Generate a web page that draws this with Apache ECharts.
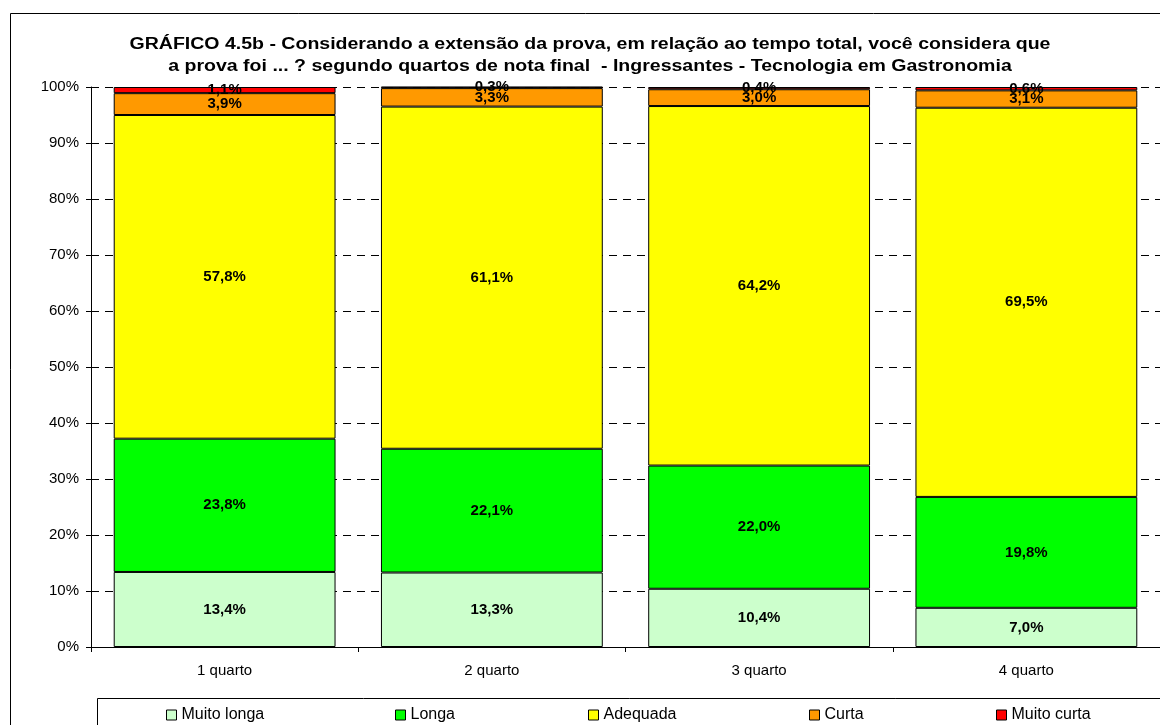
<!DOCTYPE html>
<html>
<head>
<meta charset="utf-8">
<script src="https://cdn.jsdelivr.net/npm/echarts@6/dist/echarts.min.js"></script>
<style>
  html, body { margin: 0; padding: 0; background: #fff; }
  #chart { width: 1160px; height: 725px; }
</style>
</head>
<body>
<div id="chart"></div>
<script>
  // dados
  var quartos = ['1 quarto', '2 quarto', '3 quarto', '4 quarto'];
  var muitoLonga = [13.4, 13.3, 10.4, 7.0];
  var longa = [23.8, 22.1, 22.0, 19.8];
  var adequada = [57.8, 61.1, 64.2, 69.5];
  var curta = [3.9, 3.3, 3.0, 3.1];
  var muitoCurta = [1.1, 0.3, 0.4, 0.6];

  var nomes = ['Muito longa', 'Longa', 'Adequada', 'Curta', 'Muito curta'];
  var cores = ['#CCFFCC', '#00FF00', '#FFFF00', '#FF9900', '#FF0000'];
  var valores = [muitoLonga, longa, adequada, curta, muitoCurta];
  var legendaX = [161, 390, 583, 804, 991];

  var titulo = 'GRÁFICO 4.5b - Considerando a extensão da prova, em relação ao tempo total, você considera que\n' +
    'a prova foi ... ? segundo quartos de nota final  - Ingressantes - Tecnologia em Gastronomia';

  function fmt(p) {
    return p.value.toFixed(1).replace('.', ',') + '%';
  }

  var series = nomes.map(function (n, i) {
    return {
      name: n,
      type: 'bar',
      stack: 'total',
      barWidth: '83%',
      clip: false,
      data: valores[i],
      itemStyle: { color: cores[i], borderColor: '#000', borderWidth: 1 },
      label: {
        show: true,
        position: 'inside',
        formatter: fmt,
        color: '#000',
        fontWeight: 'bold',
        fontSize: 15,
        fontFamily: 'Liberation Sans'
      }
    };
  });

  var legends = nomes.map(function (n, i) {
    return {
      data: [n],
      left: legendaX[i],
      top: 702,
      itemWidth: 10,
      itemHeight: 10,
      itemGap: 6,
      icon: 'rect',
      itemStyle: { borderColor: '#000', borderWidth: 1 },
      textStyle: { fontSize: 16, color: '#000', fontFamily: 'Liberation Sans' }
    };
  });

  var myChart = echarts.init(document.getElementById('chart'));
  myChart.setOption({
    backgroundColor: '#fff',
    animation: false,
    graphic: [
      {
        type: 'rect',
        shape: { x: 10.5, y: 13.5, width: 1200, height: 800 },
        style: { fill: null, stroke: '#000', lineWidth: 1 },
        z: -1
      },
      {
        type: 'rect',
        shape: { x: 97.5, y: 698.5, width: 1100, height: 60 },
        style: { fill: null, stroke: '#000', lineWidth: 1 },
        z: -1
      },
      {
        // título (texto largo como no original)
        type: 'text',
        x: 590,
        y: 56,
        scaleX: 1.22,
        style: {
          text: titulo,
          fontSize: 16,
          fontWeight: 'bold',
          fontFamily: 'Liberation Sans',
          fill: '#000',
          lineHeight: 22,
          align: 'center',
          verticalAlign: 'middle'
        }
      }
    ],
    legend: legends,
    grid: {
      left: 91,
      top: 87,
      width: 1071,
      height: 560
    },
    xAxis: {
      type: 'category',
      data: quartos,
      axisLine: { lineStyle: { color: '#000' } },
      axisTick: { show: true, length: 5, lineStyle: { color: '#000' } },
      axisLabel: {
        color: '#000',
        fontSize: 15,
        margin: 16,
        fontFamily: 'Liberation Sans'
      }
    },
    yAxis: {
      type: 'value',
      min: 0,
      max: 100,
      interval: 10,
      axisLine: { show: true, lineStyle: { color: '#000' } },
      axisTick: { show: true, length: 5, lineStyle: { color: '#000' } },
      axisLabel: {
        color: '#000',
        fontSize: 15,
        margin: 12,
        formatter: '{value}%',
        fontFamily: 'Liberation Sans'
      },
      splitLine: { show: true, lineStyle: { color: '#000', type: [8, 6] } }
    },
    series: series
  });
</script>
</body>
</html>
